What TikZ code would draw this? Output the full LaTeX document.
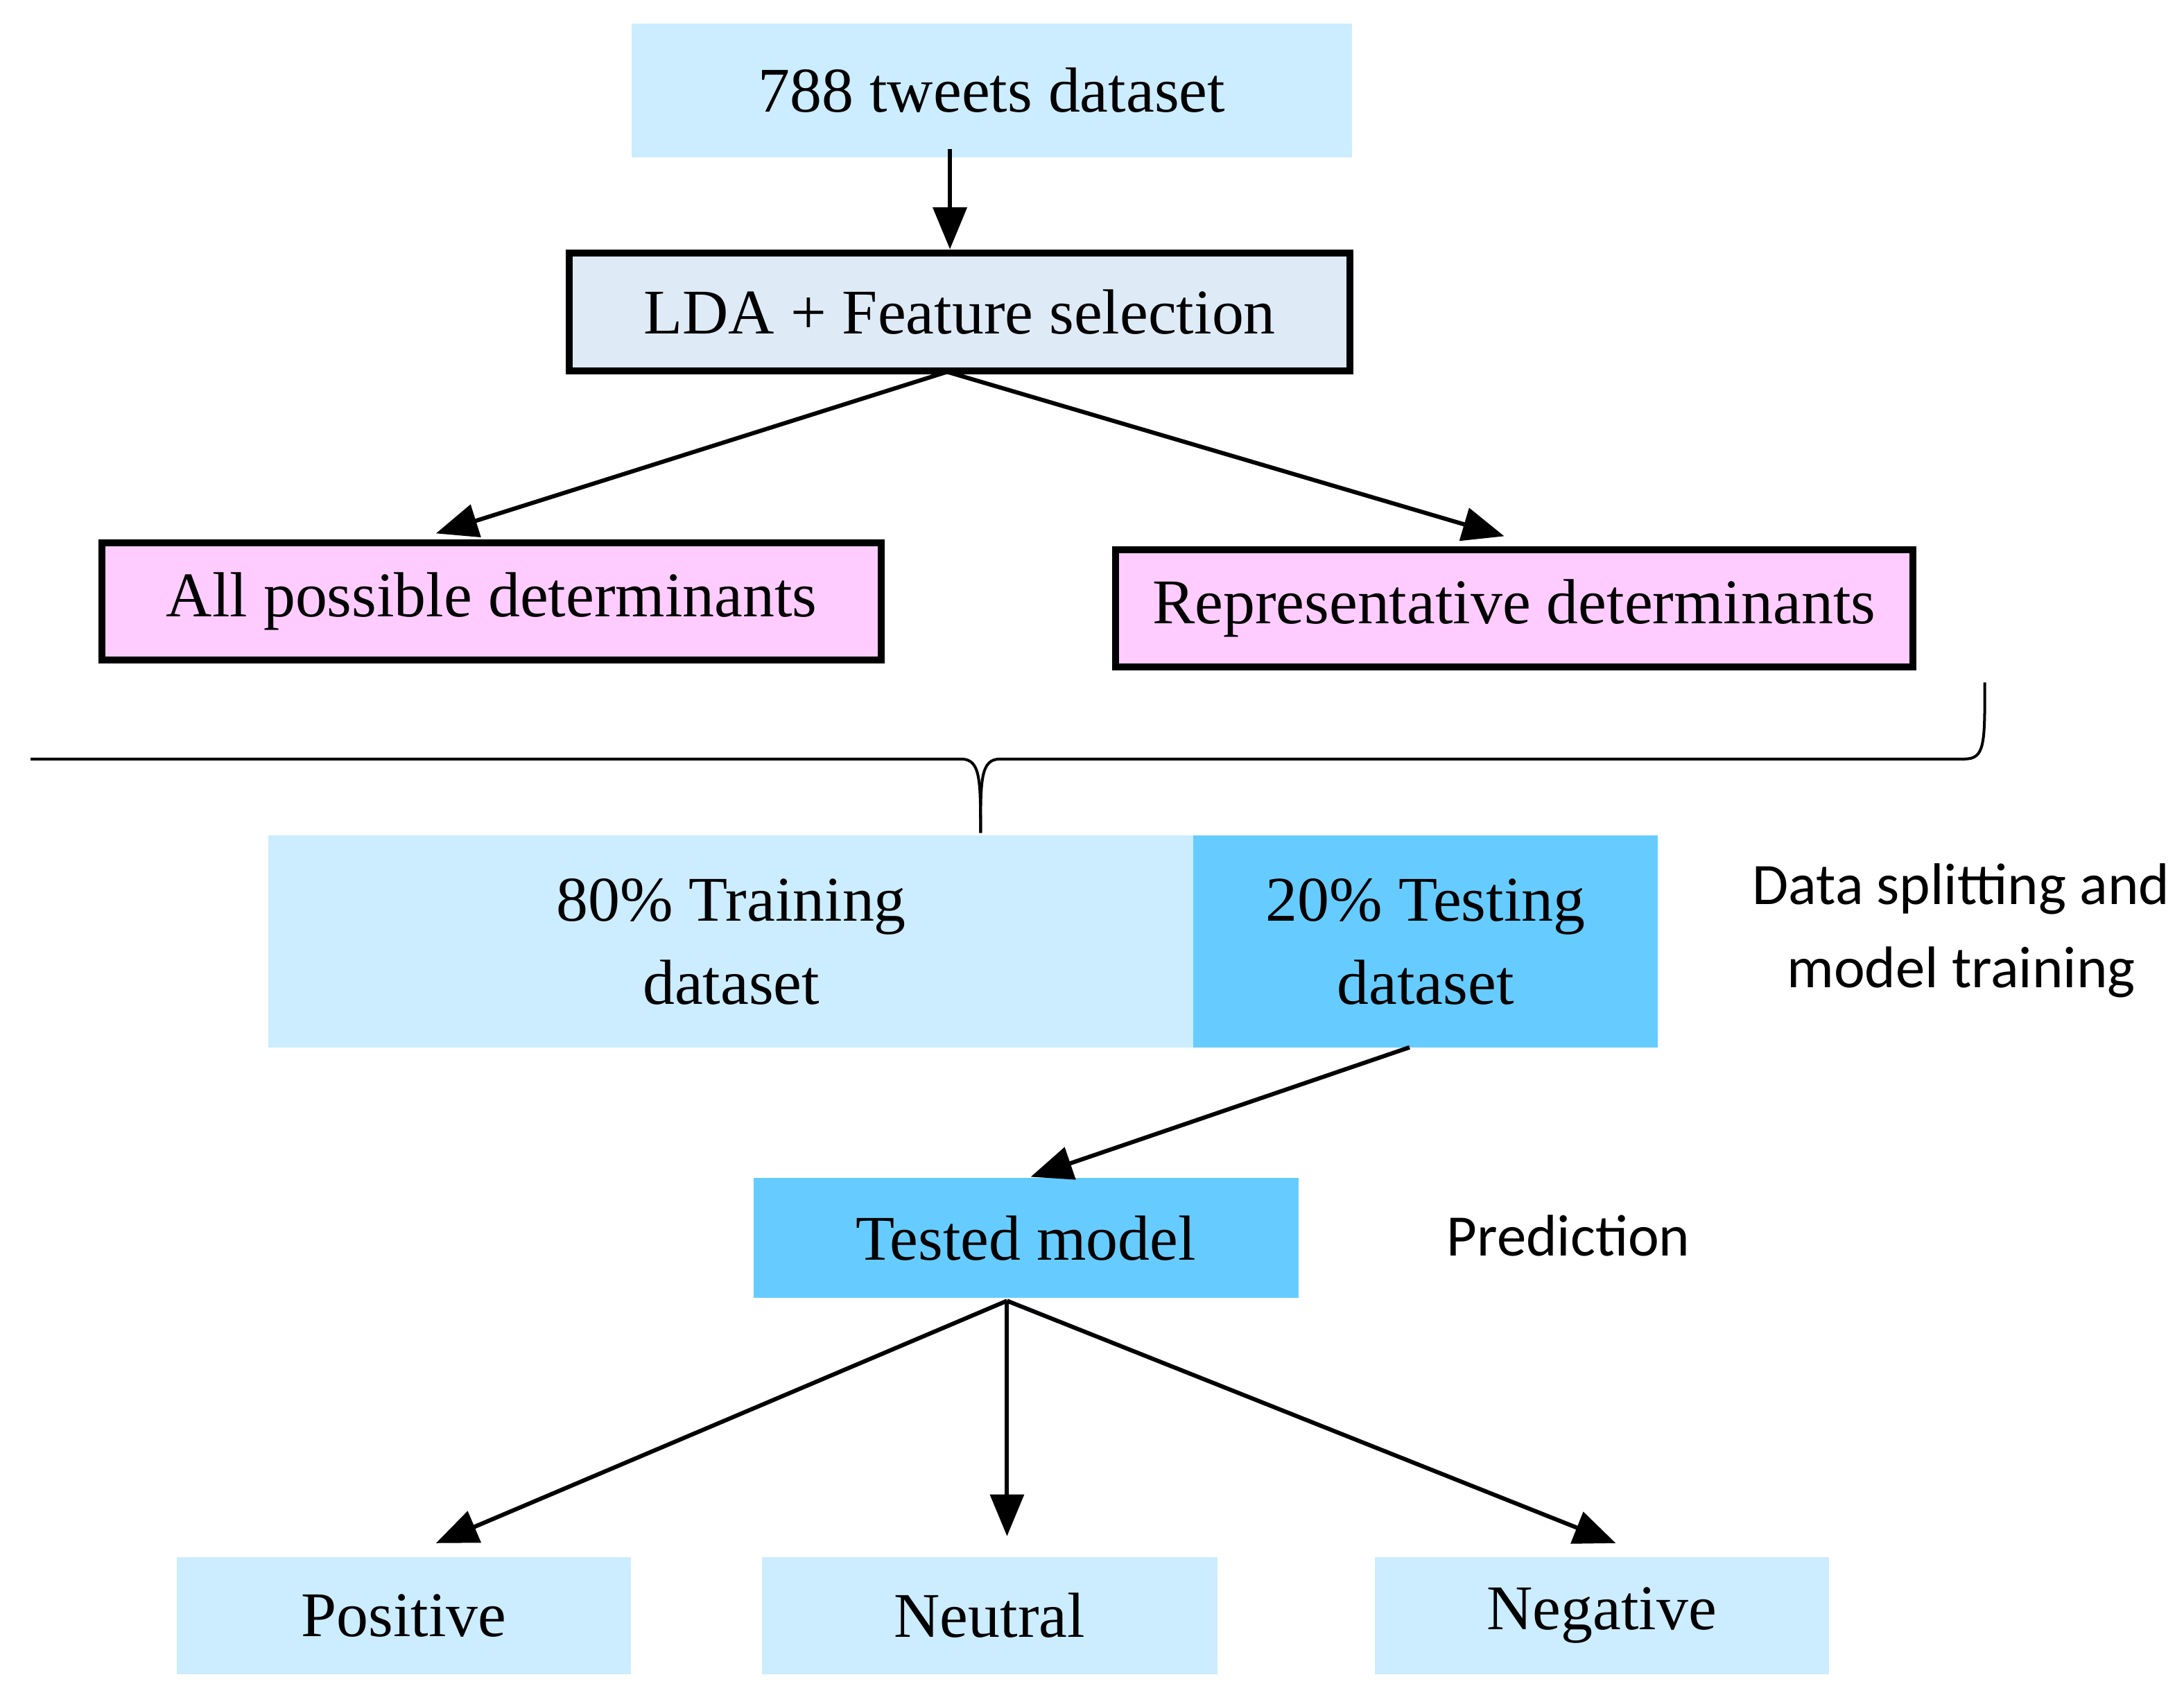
\documentclass[tikz,border=0pt]{standalone}
\usepackage{fontspec}
\setmainfont{Liberation Serif}
\newfontfamily\labelfont{Carlito}
\usetikzlibrary{arrows.meta}
\definecolor{lightsky}{RGB}{204,236,255}
\definecolor{deepsky}{RGB}{102,204,255}
\definecolor{graysky}{RGB}{222,235,247}
\definecolor{softpink}{RGB}{255,204,255}
\begin{document}
\begin{tikzpicture}[x=0.01cm, y=-0.01cm, every node/.style={font=\fontsize{13}{17}\selectfont}]
\tikzstyle{flat} = [rectangle, inner sep=0pt, text centered, fill=lightsky]
\tikzstyle{framed} = [rectangle, inner sep=0pt, text centered, draw=black, line width=.5mm]
\tikzstyle{arr} = [-{Triangle[length=3mm, width=2.4mm]}, line width=.3mm]
\tikzstyle{note} = [font=\labelfont\fontsize{12}{17}\selectfont, align=center]
\useasboundingbox (0,0) rectangle (1568,1222);

\node (data) [flat, minimum width=5.17cm, minimum height=.96cm] at (712,65) {788 tweets dataset};
\node (lda) [framed, fill=graysky, minimum width=5.6cm, minimum height=.85cm] at (689,224) {LDA + Feature selection};
\node (allp) [framed, fill=softpink, minimum width=5.59cm, minimum height=.84cm] at (353,432) {All possible determinants};
\node (repr) [framed, fill=softpink, minimum width=5.72cm, minimum height=.84cm] at (1087,437) {Representative determinants};

\node (train) [flat, minimum width=6.64cm, minimum height=1.52cm, align=center] at (525,676) {80\% Training\\dataset};
\node (test) [flat, fill=deepsky, minimum width=3.33cm, minimum height=1.52cm, align=center] at (1023.5,676) {20\% Testing\\dataset};
\node (split) [note] at (1408,668) {Data splitting and\\model training};

\node (model) [flat, fill=deepsky, minimum width=3.91cm, minimum height=.86cm] at (736.5,889) {Tested model};
\node (pred) [note] at (1126,887) {Prediction};

\node (pos) [flat, minimum width=3.26cm, minimum height=.84cm] at (290,1160) {Positive};
\node (neu) [flat, minimum width=3.27cm, minimum height=.84cm] at (710.5,1160) {Neutral};
\node (neg) [flat, minimum width=3.26cm, minimum height=.84cm] at (1150,1160) {Negative};

\coordinate (ldab) at (680,267);
\coordinate (testb) at (1012,752);
\coordinate (modelb) at (723,934);

% brace over the two determinant sets
\draw[line width=.2mm] (22,545) -- (690,545) .. controls (704,545) and (704,560) .. (704,598);
\draw[line width=.2mm] (704,598) .. controls (704,560) and (704,545) .. (718,545) -- (1410,545) .. controls (1425,545) and (1425,535) .. (1425,490);

\draw[arr] (682,107) -- (lda.north -| 682,0);
\draw[arr] (ldab) -- (313,383);
\draw[arr] (ldab) -- (1080,385);
\draw[arr] (testb) -- (740,845);
\draw[arr] (modelb) -- (313,1108);
\draw[arr] (modelb) -- (723,1103);
\draw[arr] (modelb) -- (1160,1108);
\end{tikzpicture}
\end{document}
